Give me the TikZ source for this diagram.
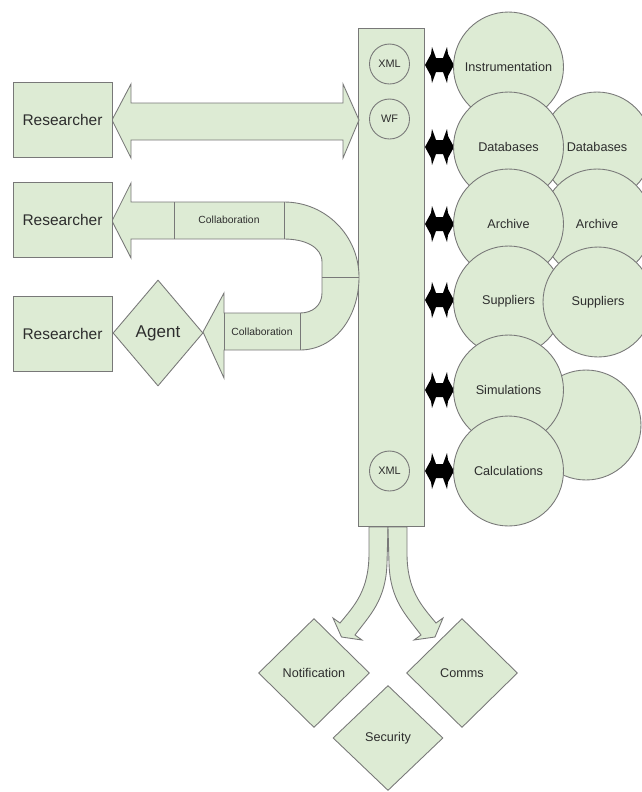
\documentclass[tikz,border=0pt]{standalone}
\usepackage{fontspec}
\setmainfont{Liberation Sans}
\usetikzlibrary{shapes.geometric}
\definecolor{leaf}{RGB}{221,235,212}
\definecolor{edgegray}{RGB}{120,120,120}
\definecolor{inkgray}{RGB}{45,45,45}

\begin{document}
\begin{tikzpicture}[x=0.02cm,y=-0.02cm,line width=0.5pt,
    shape box/.style={draw=edgegray,fill=leaf,text=inkgray,inner sep=0pt},
    person node/.style={shape box,rectangle,minimum width=1.98cm,minimum height=1.5cm,
                        font=\fontsize{8.8}{10}\selectfont},
    source node/.style={shape box,circle,minimum size=2.2cm,font=\fontsize{7.2}{9}\selectfont},
    tag node/.style={draw=edgegray,circle,minimum size=0.8cm,inner sep=0pt,text=inkgray,
                     font=\fontsize{6.2}{7}\selectfont},
    service node/.style={shape box,diamond,minimum width=2.22cm,minimum height=2.18cm,
                         font=\fontsize{7.2}{9}\selectfont},
    fat arrow/.style={draw=edgegray,fill=leaf,line join=miter},
    label text/.style={text=inkgray,font=\fontsize{5.9}{7}\selectfont}]

  \useasboundingbox (0,0) rectangle (642,792);

  % central bar
  \node[shape box,rectangle,minimum width=1.32cm,minimum height=9.96cm] (hub) at (391,277) {};
  \node[tag node] (xmltop) at (389.5,64) {XML};
  \node[tag node] (wf) at (389.5,119) {WF};
  \node[tag node] (xmlbot) at (389.5,471) {XML};

  % researcher links
  \draw[fat arrow] (112,120) -- (131,84) -- (131,103) -- (343,103) -- (343,84) -- (359,120)
    -- (343,158) -- (343,140) -- (131,140) -- (131,158) -- cycle;

  \draw[fat arrow] (112,221) -- (131,183) -- (131,202) -- (284,202)
    .. controls (326,202) and (359,236) .. (359,277)
    .. controls (359,318) and (334,350) .. (300,350)
    -- (224,350) -- (224,378) -- (203,332) -- (224,293) -- (224,313) -- (300,313)
    .. controls (313,313) and (322,305) .. (322,293)
    -- (322,262)
    .. controls (322,247) and (305,239) .. (284,239)
    -- (131,239) -- (131,258) -- cycle;
  \draw[edgegray] (174,202) -- (174,239)
                  (284,202) -- (284,239)
                  (322,277) -- (359,277)
                  (300,313) -- (300,350)
                  (224,313) -- (224,350);
  \node[label text] (collabtop) at (229,220) {Collaboration};
  \node[label text] (collabbot) at (262,332) {Collaboration};

  \node[person node] (res1) at (62.5,120) {Researcher};
  \node[person node] (res2) at (62.5,220) {Researcher};
  \node[person node] (res3) at (62.5,334) {Researcher};
  \node[shape box,diamond,minimum width=1.8cm,minimum height=2.12cm,
        font=\fontsize{9.7}{11}\selectfont] (agent) at (158,333) {Agent};

  % data sources
  \foreach \y in {65,147,224,300,390,471}
    \fill (425,\y) -- (431,\y-11) -- (432,\y-18) -- (436,\y-7) -- (443,\y-7) -- (447,\y-18)
      -- (448,\y-11) -- (454,\y) -- (448,\y+11) -- (447,\y+18) -- (443,\y+7) -- (436,\y+7)
      -- (432,\y+18) -- (431,\y+11) -- cycle;

  \node[source node] (instr) at (508.5,67) {Instrumentation};
  \node[source node] (db2) at (597,147) {Databases};
  \node[source node] (db1) at (508.5,147) {Databases};
  \node[source node] (arch2) at (597,224) {Archive};
  \node[source node] (arch1) at (508.5,224) {Archive};
  \node[source node] (sup1) at (508.5,301) {Suppliers};
  \node[source node] (sup2) at (598,302) {Suppliers};
  \node[source node] (spare) at (586,425) {};
  \node[source node] (sim) at (508.5,390) {Simulations};
  \node[source node] (calc) at (508.5,471) {Calculations};

  % outputs
  \draw[fat arrow] (369,527) -- (369,553) .. controls (369,590) and (355,605) .. (340,623)
    -- (333,618) -- (341.5,637) -- (362,640) -- (355,635)
    .. controls (370,615) and (386,600) .. (387,563) -- (388,527) -- cycle;
  \draw[fat arrow] (388,527) -- (389,563) .. controls (390,600) and (406,615) .. (421,635)
    -- (414,640) -- (435,637) -- (443,618) -- (436,623)
    .. controls (421,605) and (407,590) .. (407,553) -- (407,527) -- cycle;

  \node[service node] (notify) at (314,673) {Notification};
  \node[service node] (comms) at (462,673) {Comms};
  \node[service node,minimum width=2.2cm,minimum height=2.1cm] (secure) at (388,738) {Security};
\end{tikzpicture}
\end{document}
